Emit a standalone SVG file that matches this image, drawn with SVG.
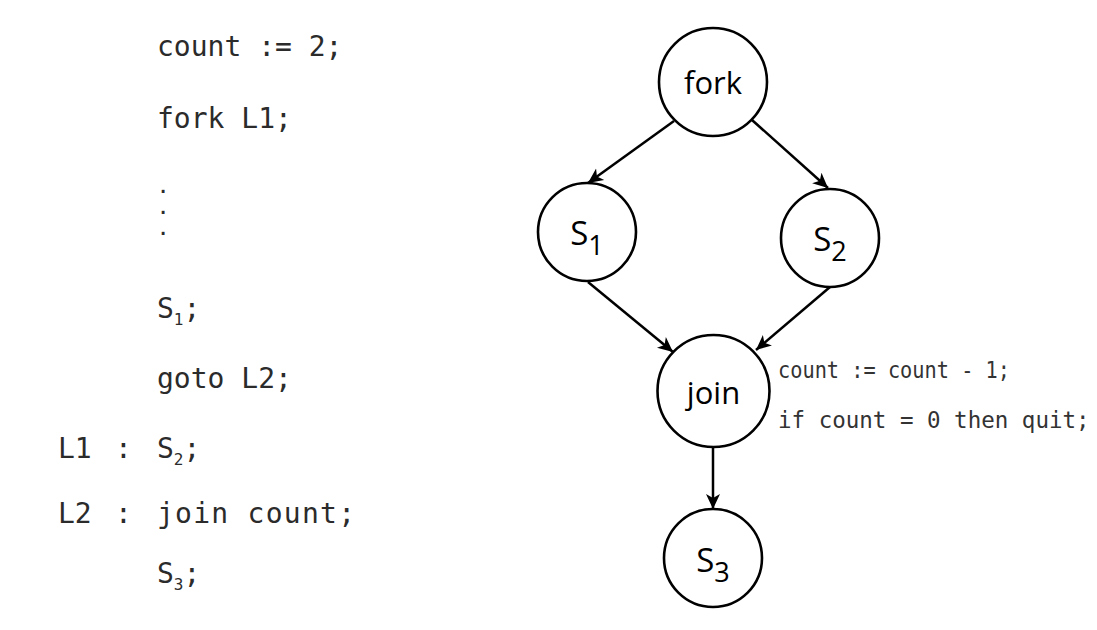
<svg xmlns="http://www.w3.org/2000/svg" width="1097" height="630" viewBox="0 0 1097 630">
<style>
.code{font-family:"DejaVu Sans Mono","Liberation Mono",monospace;font-size:28px;fill:#2b2b2b}
.dot{font-family:"DejaVu Sans Mono","Liberation Mono",monospace;font-size:17px;font-weight:bold;fill:#2b2b2b}
.note{font-family:"DejaVu Sans Mono","Liberation Mono",monospace;font-size:22.5px;fill:#333}
.node circle{fill:#fff;stroke:#000;stroke-width:2.6}
.lbl{font-family:"Open Sans","Noto Sans",sans-serif;font-size:31px;fill:#000;text-anchor:middle}
.s{font-family:"Open Sans","Noto Sans",sans-serif;font-size:33px;fill:#000;text-anchor:middle}
.edge{stroke:#000;stroke-width:2.5;fill:none}
</style>
<defs>
<marker id="arr" viewBox="0 0 16 16" refX="15" refY="8" markerWidth="16" markerHeight="16" markerUnits="userSpaceOnUse" orient="auto">
<path d="M0,1 L15,8 L0,15 L4,8 Z" fill="#000"/>
</marker>
</defs>
<rect width="1097" height="630" fill="#fff"/>
<g id="code">
<text class="code" x="157" y="56">count := 2;</text>
<text class="code" x="157" y="128">fork L1;</text>
<text class="dot" x="158" y="193">.</text>
<text class="dot" x="158" y="214">.</text>
<text class="dot" x="158" y="235">.</text>
<text class="code" x="157" y="318">S<tspan font-size="16" dy="7">1</tspan><tspan dy="-7">;</tspan></text>
<text class="code" x="157" y="388">goto L2;</text>
<text class="code" x="58" y="458">L1</text>
<text class="code" x="115" y="458">:</text>
<text class="code" x="157" y="458">S<tspan font-size="16" dy="7">2</tspan><tspan dy="-7">;</tspan></text>
<text class="code" x="58" y="523">L2</text>
<text class="code" x="115" y="523">:</text>
<text class="code" x="157" y="523" textLength="198">join count;</text>
<text class="code" x="157" y="583">S<tspan font-size="16" dy="7">3</tspan><tspan dy="-7">;</tspan></text>
</g>
<g id="connectors">
<line class="edge" x1="674" y1="121" x2="588" y2="183" marker-end="url(#arr)"/>
<line class="edge" x1="752" y1="120" x2="828" y2="188" marker-end="url(#arr)"/>
<line class="edge" x1="588" y1="282" x2="673" y2="352" marker-end="url(#arr)"/>
<line class="edge" x1="830" y1="287" x2="756" y2="350" marker-end="url(#arr)"/>
<line class="edge" x1="713" y1="446" x2="713" y2="509" marker-end="url(#arr)"/>
</g>
<g id="fork" class="node">
<circle cx="713" cy="82" r="54"/>
<text class="lbl" x="713" y="94">fork</text>
</g>
<g id="s1" class="node">
<circle cx="587" cy="232" r="49"/>
<text class="s" x="587" y="245">S<tspan font-size="27" dy="10">1</tspan></text>
</g>
<g id="s2" class="node">
<circle cx="830" cy="238" r="49"/>
<text class="s" x="830" y="251">S<tspan font-size="27" dy="10">2</tspan></text>
</g>
<g id="join" class="node">
<circle cx="713.5" cy="391" r="56"/>
<text class="lbl" x="713.5" y="404">join</text>
</g>
<g id="s3" class="node">
<circle cx="713" cy="558" r="49"/>
<text class="s" x="713" y="572">S<tspan font-size="27" dy="10">3</tspan></text>
</g>
<g id="note">
<text class="note" x="778" y="378" textLength="232" lengthAdjust="spacingAndGlyphs">count := count - 1;</text>
<text class="note" x="778" y="428">if count = 0 then quit;</text>
</g>
</svg>
